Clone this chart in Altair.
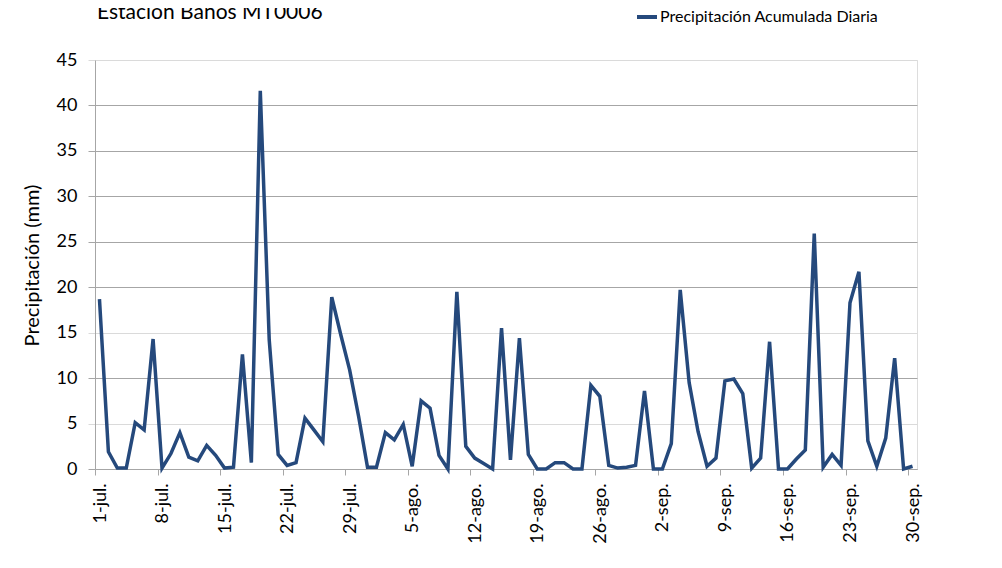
import json
import altair as alt
import pandas as pd

# Daily accumulated precipitation (mm), 1-jul to 30-sep
precip = [
    18.7, 1.9, 0.1, 0.1, 5.1, 4.3, 14.3, 0.1, 1.7, 4.0,
    1.3, 0.9, 2.6, 1.5, 0.1, 0.2, 12.6, 0.7, 41.6, 14.2,
    1.6, 0.4, 0.7, 5.6, 4.3, 3.0, 18.9, 14.8, 10.9, 5.8,
    0.2, 0.2, 4.0, 3.2, 4.9, 0.3, 7.5, 6.7, 1.5, 0.0,
    19.5, 2.5, 1.2, 0.6, 0.0, 15.5, 1.0, 14.4, 1.6, 0.0,
    0.0, 0.7, 0.7, 0.0, 0.0, 9.2, 8.0, 0.4, 0.1, 0.2,
    0.4, 8.6, 0.0, 0.0, 2.8, 19.7, 9.5, 4.1, 0.3, 1.2,
    9.7, 9.9, 8.3, 0.1, 1.2, 14.0, 0.0, 0.0, 1.1, 2.1,
    25.9, 0.2, 1.6, 0.4, 18.3, 21.7, 3.1, 0.3, 3.4, 12.2,
    0.0, 0.3,
]

tick_labels = [
    "1-jul.", "8-jul.", "15-jul.", "22-jul.", "29-jul.", "5-ago.", "12-ago.",
    "19-ago.", "26-ago.", "2-sep.", "9-sep.", "16-sep.", "23-sep.", "30-sep.",
]
tick_step = 7
y_ticks = [0, 5, 10, 15, 20, 25, 30, 35, 40, 45]

series_name = "Precipitación Acumulada Diaria"
chart_title = "Estación Baños MT0006"
y_title = "Precipitación (mm)"

n_days = len(precip)
df = pd.DataFrame({
    "dia": list(range(n_days)),
    "precip": precip,
    "serie": [series_name] * n_days,
})
title_df = pd.DataFrame({"titulo": [chart_title]})

tick_days = [i * tick_step for i in range(len(tick_labels))]
label_expr = json.dumps(tick_labels, ensure_ascii=False) + "[round(datum.value / 7)]"

FONT = "Lato"
DARK = "#a6a6a6"
LIGHT = "#dadada"
LINE = "#25497c"
light_test = "datum.value == 5 || datum.value == 15 || datum.value == 45"

line = (
    alt.Chart(df)
    .transform_calculate(xc="datum.dia + 0.5")
    .mark_line(strokeWidth=3.5, color=LINE)
    .encode(
        x=alt.X(
            "xc:Q",
            scale=alt.Scale(domain=[0, n_days], nice=False, zero=False),
            axis=alt.Axis(
                values=tick_days,
                labelExpr=label_expr,
                labelAngle=-90,
                labelOffset=5,
                labelPadding=8,
                labelFontSize=18,
                labelFont=FONT,
                labelColor="#000000",
                tickSize=6,
                tickColor=DARK,
                domainColor=DARK,
                grid=False,
                title=None,
            ),
        ),
        y=alt.Y(
            "precip:Q",
            scale=alt.Scale(domain=[0, 45], nice=False),
            axis=alt.Axis(
                values=y_ticks,
                tickSize=7,
                labelPadding=11,
                labelFontSize=18,
                labelFont=FONT,
                labelColor="#000000",
                tickColor=alt.condition(light_test, alt.value(LIGHT), alt.value(DARK)),
                gridColor=alt.condition(light_test, alt.value(LIGHT), alt.value(DARK)),
                domainColor=DARK,
                grid=True,
                title=y_title,
                titleFont=FONT,
                titleFontSize=20,
                titleFontWeight="normal",
                titleColor="#000000",
                titleX=-63,
                titleY=205,
                titleAlign="center",
                titleBaseline="middle",
                titleAngle=270,
            ),
        ),
        color=alt.Color(
            "serie:N",
            scale=alt.Scale(range=[LINE]),
            legend=alt.Legend(
                orient="none",
                legendX=540,
                legendY=-55,
                title=None,
                symbolType="stroke",
                symbolStrokeWidth=4,
                symbolSize=400,
                labelFont=FONT,
                labelFontSize=16,
                labelColor="#000000",
                labelOffset=1,
                labelLimit=0,
            ),
        ),
    )
)

title_text = (
    alt.Chart(title_df)
    .mark_text(
        font=FONT,
        fontSize=21,
        color="#000000",
        align="left",
        baseline="alphabetic",
    )
    .encode(
        x=alt.value(2),
        y=alt.value(-41),
        text="titulo:N",
    )
)

chart = (
    alt.layer(line, title_text)
    .properties(
        width=822,
        height=409,
        autosize=alt.AutoSizeParams(type="none"),
        padding={"left": 87, "top": 52, "right": 77, "bottom": 91},
    )
    .configure_view(stroke=None)
    .configure(font=FONT)
)

chart.save("out.html", embed_options={"renderer": "svg", "actions": False})
